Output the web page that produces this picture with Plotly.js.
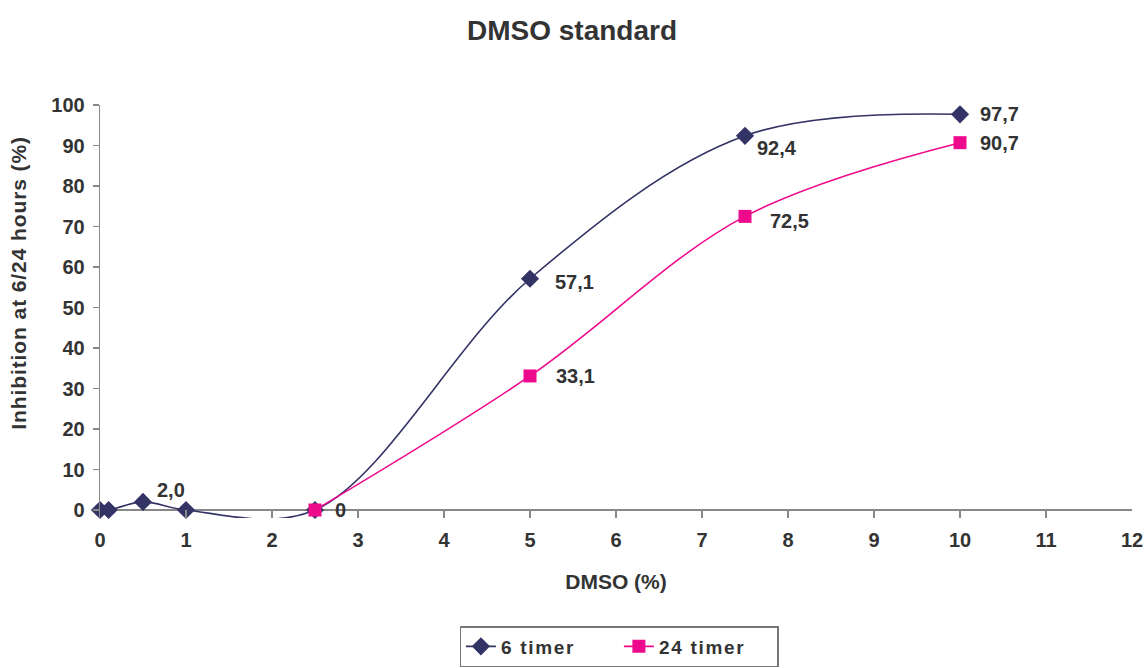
<!DOCTYPE html>
<html>
<head>
<meta charset="utf-8">
<script src="https://cdn.plot.ly/plotly-3.0.1.min.js"></script>
<style>
html,body{margin:0;padding:0;background:#fff;}
#chart{width:1144px;height:668px;}
.legendtext{letter-spacing:1.7px;}
g.annotation[data-index="0"] text{letter-spacing:0.9px;}
</style>
</head>
<body>
<div id="chart"></div>
<script>
// Data
const dmso6 = [0, 0.1, 0.5, 1, 2.5, 5, 7.5, 10];
const inhib6 = [0, 0, 2.0, 0, 0, 57.1, 92.4, 97.7];
const labels6 = ["", "", "2,0", "", "", "57,1", "92,4", "97,7"];
const dmso24 = [2.5, 5, 7.5, 10];
const inhib24 = [0, 33.1, 72.5, 90.7];
const labels24 = ["0", "33,1", "72,5", "90,7"];
const seriesNames = ["6 timer", "24 timer"];
const xTicks = [0,1,2,3,4,5,6,7,8,9,10,11,12];
const yTicks = [0,10,20,30,40,50,60,70,80,90,100];

// Style
const c6 = "#333366", c24 = "#EE0A8C";
const FONT = "Liberation Sans, Arial, sans-serif";
const TXT = "#333333";
const labelFont = {family: FONT, size: 20, color: TXT, weight: "bold"};
// pixel offsets of the data labels (style only)
const off6 = [[0,0],[0,0],[12,12],[0,0],[0,0],[23,-3],[10,-12],[18,0]];
const off24 = [[18,0],[24,0],[23,-5],[18,0]];

const traces = [
  {x: dmso6, y: inhib6, name: seriesNames[0], type: "scatter", mode: "lines+markers",
   line: {shape: "spline", smoothing: 1, color: c6, width: 1.6},
   marker: {symbol: "diamond", size: 14, color: c6}, cliponaxis: false, hoverinfo: "skip"},
  {x: dmso24, y: inhib24, name: seriesNames[1], type: "scatter", mode: "lines+markers",
   line: {shape: "spline", smoothing: 1, color: c24, width: 1.6},
   marker: {symbol: "square", size: 13, color: c24}, cliponaxis: false, hoverinfo: "skip"}
];

const annotations = [
  {text: "Inhibition at 6/24 hours (%)", textangle: -90, xref: "paper", yref: "paper",
   x: -0.079, xanchor: "center", y: 0.57, yanchor: "middle", showarrow: false,
   font: {family: FONT, size: 21, weight: "bold", color: TXT}}
];
function addLabels(xs, ys, txt, off) {
  for (let i = 0; i < xs.length; i++) {
    if (!txt[i]) continue;
    annotations.push({x: xs[i], y: ys[i], xref: "x", yref: "y", text: txt[i], showarrow: false,
      xanchor: "left", yanchor: "middle", xshift: off[i][0], yshift: off[i][1], font: labelFont});
  }
}
addLabels(dmso6, inhib6, labels6, off6);
addLabels(dmso24, inhib24, labels24, off24);

const layout = {
  width: 1144, height: 668,
  margin: {l: 100, r: 12, t: 105, b: 150, autoexpand: false},
  paper_bgcolor: "#fff", plot_bgcolor: "#fff",
  font: {family: FONT, color: TXT},
  title: {text: "DMSO standard", x: 0.5, xref: "container", y: 0.955, yanchor: "middle",
          font: {family: FONT, size: 28, weight: "bold", color: TXT}},
  xaxis: {range: [0, 12], tickvals: xTicks, ticktext: xTicks.map(String),
          showgrid: false, zeroline: false, showline: false,
          ticks: "inside", ticklen: 8, tickcolor: "#888888", tickwidth: 1.3,
          ticklabelstandoff: 8,
          tickfont: {family: FONT, size: 20, weight: "bold", color: TXT},
          title: {text: "DMSO (%)", standoff: 24, font: {family: FONT, size: 21, weight: "bold", color: TXT}}},
  yaxis: {range: [-1.975, 100], tickvals: yTicks, ticktext: yTicks.map(String),
          showgrid: false, zeroline: true, zerolinecolor: "#888888", zerolinewidth: 1.3,
          showline: true, linecolor: "#888888", linewidth: 1.3,
          ticks: "outside", ticklen: 6, tickcolor: "#888888", tickwidth: 1.3,
          ticklabelstandoff: 4,
          tickfont: {family: FONT, size: 20, weight: "bold", color: TXT}},
  annotations: annotations,
  showlegend: true,
  legend: {orientation: "h", x: 0.503, xanchor: "center", y: -0.262, yanchor: "top",
           entrywidth: 113, entrywidthmode: "pixels",
           bordercolor: "#777777", borderwidth: 1.3,
           font: {family: FONT, size: 19, weight: "bold", color: TXT}}
};

Plotly.newPlot("chart", traces, layout, {displayModeBar: false, staticPlot: true});
</script>
</body>
</html>
